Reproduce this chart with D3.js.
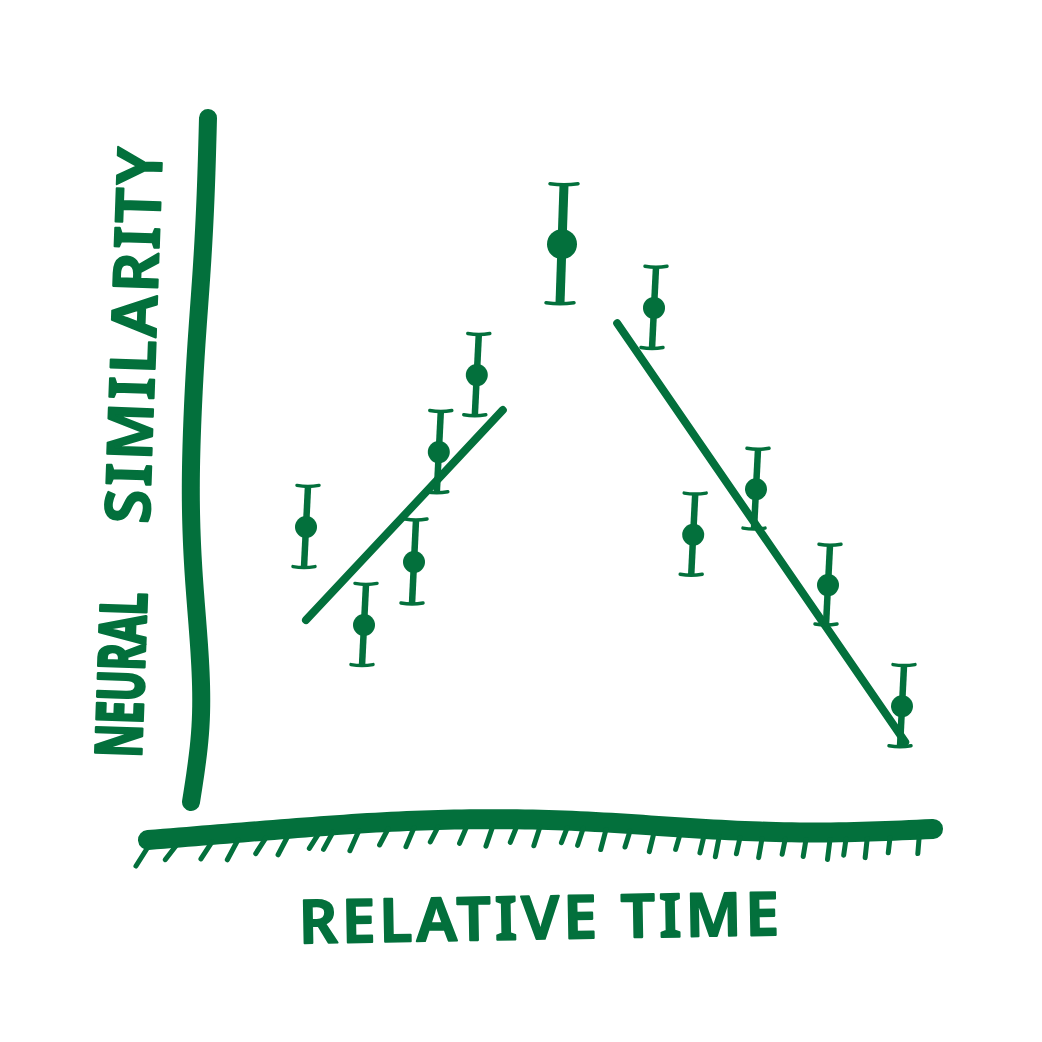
<!DOCTYPE html>
<html>
<head>
<meta charset="utf-8">
<script src="https://cdn.jsdelivr.net/npm/d3@7"></script>
<style>
  body { margin: 0; background: #fff; }
  svg { display: block; }
</style>
</head>
<body>
<svg id="chart"></svg>
<script>
// values (time in arbitrary units, similarity 0..1)
var times = [-6.1, -4.65, -3.4, -2.78, -1.83, 0.3, 2.6, 3.58, 5.15, 6.95, 8.8];
var similarity = [0.39, 0.25, 0.34, 0.497, 0.607, 0.794, 0.703, 0.379, 0.444, 0.307, 0.134];
var errors = [0.058, 0.058, 0.06, 0.058, 0.058, 0.085, 0.058, 0.058, 0.057, 0.057, 0.058];
var peakIndex = 5;
var riseFit = [[-6.1, 0.257], [-1.18, 0.557]];
var fallFit = [[1.68, 0.681], [8.88, 0.083]];
var tickTimes = [-10.05, -9.33, -8.45, -7.8, -7.1, -6.55, -5.78, -5.43, -4.78, -4.05, -3.4, -2.8,
  -2.08, -1.43, -0.83, -0.25, 0.43, 0.83, 1.4, 2.0, 2.6, 3.25, 3.85, 4.23, 4.75, 5.3, 5.88,
  6.4, 7.0, 7.4, 7.93, 8.5, 9.23];
var xLabel = "RELATIVE TIME";
var yLabelWords = ["NEURAL", "SIMILARITY"];

var green = "#03703c";
var width = 1042, height = 1042;

var svg = d3.select("#chart").attr("width", width).attr("height", height);

var x = d3.scaleLinear().domain([-10, 10]).range([150, 950]);
var y = d3.scaleLinear().domain([0, 1]).range([800, 100]);

// wobble of the hand drawn axes (evenly spaced control offsets, smoothed)
var xAxisSpan = [148, 933];
var xAxisWobble = d3.interpolateBasis([840, 831, 822, 818, 821, 830, 834, 829]);
var yAxisSpan = [118, 802];
var yAxisWobble = d3.interpolateBasis([208, 206, 202, 196, 192, 190, 193, 200, 203, 191]);

function xAxisY(px) { return xAxisWobble((px - xAxisSpan[0]) / (xAxisSpan[1] - xAxisSpan[0])); }

var line = d3.line();

svg.append("path")
  .attr("d", line(d3.range(0, 1.0001, 0.01).map(function (f) {
    var px = xAxisSpan[0] + f * (xAxisSpan[1] - xAxisSpan[0]);
    return [px, xAxisWobble(f)];
  })))
  .attr("fill", "none").attr("stroke", green)
  .attr("stroke-width", 20).attr("stroke-linecap", "round").attr("stroke-linejoin", "round");

svg.append("path")
  .attr("d", line(d3.range(0, 1.0001, 0.01).map(function (f) {
    var py = yAxisSpan[0] + f * (yAxisSpan[1] - yAxisSpan[0]);
    return [yAxisWobble(f), py];
  })))
  .attr("fill", "none").attr("stroke", green)
  .attr("stroke-width", 18).attr("stroke-linecap", "round").attr("stroke-linejoin", "round");

// little slanted tick marks under the x axis
var slant = d3.scaleLinear().domain([-10, 0, 10]).range([-12, -6, -1]);
svg.append("g").selectAll("path")
  .data(tickTimes)
  .join("path")
  .attr("d", function (t, i) {
    var px = x(t), top = xAxisY(px) + 7;
    var len = 15 + [4, 0, 2, 5, 1][i % 5];
    return "M" + px + "," + top + "L" + (px + slant(t)) + "," + (top + len);
  })
  .attr("fill", "none").attr("stroke", green)
  .attr("stroke-width", 5).attr("stroke-linecap", "round");

// fit lines
[riseFit, fallFit].forEach(function (seg) {
  svg.append("path")
    .attr("d", d3.line().x(function (d) { return x(d[0]); }).y(function (d) { return y(d[1]); })(seg))
    .attr("fill", "none").attr("stroke", green)
    .attr("stroke-width", 8).attr("stroke-linecap", "round");
});

// error bars and points
var pts = times.map(function (t, i) {
  return { t: t, s: similarity[i], e: errors[i], peak: i === peakIndex };
});

var g = svg.append("g");
g.selectAll(".bar")
  .data(pts)
  .join("path")
  .attr("class", "bar")
  .attr("d", function (d) {
    var px = x(d.t);
    return "M" + (px + 2) + "," + y(d.s + d.e) + "L" + (px - 2) + "," + y(d.s - d.e);
  })
  .attr("fill", "none").attr("stroke", green)
  .attr("stroke-width", function (d) { return d.peak ? 9 : 6.5; });

g.selectAll(".cap")
  .data(pts.flatMap(function (d) {
    return [{ px: x(d.t) + 2, py: y(d.s + d.e), w: d.peak ? 14 : 11 },
            { px: x(d.t) - 2, py: y(d.s - d.e), w: d.peak ? 14 : 11 }];
  }))
  .join("path")
  .attr("class", "cap")
  .attr("d", function (d) {
    return "M" + (d.px - d.w) + "," + (d.py - 1) + "Q" + d.px + "," + (d.py + 1) + " " + (d.px + d.w) + "," + (d.py - 1);
  })
  .attr("fill", "none").attr("stroke", green)
  .attr("stroke-width", 3.5).attr("stroke-linecap", "round");

g.selectAll("circle")
  .data(pts)
  .join("circle")
  .attr("cx", function (d) { return x(d.t); })
  .attr("cy", function (d) { return y(d.s); })
  .attr("r", function (d) { return d.peak ? 15 : 11; })
  .attr("fill", green);

// labels, hand lettered look
function letter(sel, size, weight, stroke) {
  return sel.style("font-family", "'Noto Sans', sans-serif")
    .style("font-size", size + "px").style("font-weight", weight)
    .attr("fill", green).attr("stroke", green).attr("stroke-width", stroke)
    .attr("stroke-linejoin", "round");
}

svg.append("text")
  .attr("x", 539).attr("y", 939)
  .attr("transform", "rotate(-1,539,920)")
  .attr("text-anchor", "middle")
  .attr("textLength", 480).attr("lengthAdjust", "spacing")
  .call(letter, 60, 600, 2)
  .text(xLabel);

var yl = svg.append("g").attr("transform", "translate(141,758) rotate(-88)");
yl.append("text")
  .attr("x", 0).attr("y", 0)
  .attr("textLength", 165).attr("lengthAdjust", "spacingAndGlyphs")
  .call(letter, 64, 700, 3)
  .text(yLabelWords[0]);
yl.append("text")
  .attr("x", 234).attr("y", 0)
  .attr("textLength", 376).attr("lengthAdjust", "spacing")
  .call(letter, 62, 600, 2)
  .text(yLabelWords[1]);
</script>
</body>
</html>
